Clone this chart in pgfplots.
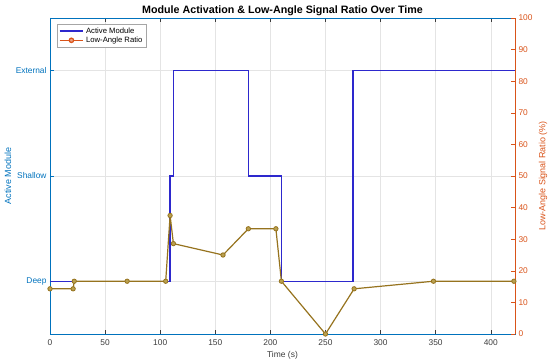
\documentclass[border=0pt]{standalone}
\usepackage{pgfplots}
\pgfplotsset{compat=1.18}
\usepackage{fontspec}
\setmainfont{Liberation Sans}
\definecolor{modblue}{RGB}{45,40,205}
\definecolor{ratiocol}{RGB}{150,115,30}
\definecolor{ratiofill}{RGB}{185,160,80}
\definecolor{lblue}{rgb}{0,0.447,0.741}
\definecolor{rorange}{rgb}{0.85,0.325,0.098}
\definecolor{gridc}{RGB}{228,228,228}
\definecolor{axgray}{RGB}{60,60,60}
\begin{document}
\begin{tikzpicture}
\path[use as bounding box] (-50bp,-30bp) rectangle (500bp,334bp);
\begin{axis}[
  at={(0,0)}, anchor=south west,
  scale only axis, width=465bp, height=316bp,
  xmin=0, xmax=422, ymin=0.5, ymax=3.5,
  clip=false,
  /pgf/number format/assume math mode=true,
  xtick={0,50,...,400},
  ytick={1,2,3}, yticklabels={Deep,Shallow,External},
  tick align=inside, xtick pos=both, ytick pos=left,
  major tick length=4bp,
  grid=major, major grid style={gridc, line width=0.5bp},
  x axis line style={axgray, line width=0.5bp},
  y axis line style={lblue, line width=0.5bp},
  xtick style={axgray, line width=0.5bp},
  ytick style={lblue, line width=0.5bp},
  ticklabel style={font=\fontsize{8.4}{9}\selectfont},
  xticklabel style={text=axgray, yshift=-2.5bp},
  yticklabel style={text=lblue},
  title={Module Activation \& Low-Angle Signal Ratio Over Time},
  every axis title/.style={font=\bfseries\fontsize{10.75}{12}\selectfont, at={(axis description cs:0.5,1)}, anchor=base, yshift=4.5bp, inner sep=0pt},
  xlabel={Time (s)},
  xlabel style={font=\fontsize{8.5}{10}\selectfont, text=axgray, at={(axis description cs:0.5,-0.068)}, anchor=center},
  ylabel={Active Module},
  ylabel style={font=\fontsize{9}{10}\selectfont, text=lblue, at={(axis description cs:-0.0903,0.5)}, anchor=center, rotate=0},
  legend style={at={(axis description cs:0.015,0.981)}, anchor=north west, font=\fontsize{7.7}{9}\selectfont, draw=gray!70, line width=0.5bp, inner sep=1.5bp, row sep=-2bp, cells={anchor=west}},
  legend image code/.code={\draw[mark repeat=2,mark phase=2,#1] plot coordinates {(0cm,0cm) (0.42cm,0cm) (0.84cm,0cm)};},
]
\addplot[const plot, modblue, line width=1.6bp, forget plot] coordinates {
  (0,1) (109,2) (112,3) (180,2) (210,1) (275,3) (422,3)
};
\addlegendimage{modblue, line width=1.6bp}
\addlegendentry{Active Module}
\addlegendimage{rorange, line width=1.2bp, mark=*, mark size=2.2bp, mark options={fill=rorange!55, draw=rorange}}
\addlegendentry{Low-Angle Ratio}
\end{axis}
\begin{axis}[
  at={(0,0)}, anchor=south west,
  scale only axis, width=465bp, height=316bp,
  xmin=0, xmax=422, ymin=0, ymax=100,
  clip=false,
  /pgf/number format/assume math mode=true,
  axis x line=none, axis y line*=right,
  ytick={0,10,...,100},
  tick align=inside, major tick length=4bp,
  y axis line style={rorange, line width=0.5bp, -},
  ytick style={rorange, line width=0.5bp},
  ticklabel style={font=\fontsize{8.4}{9}\selectfont},
  yticklabel style={text=rorange},
  ylabel={Low-Angle Signal Ratio (\%)},
  ylabel style={font=\fontsize{9}{10}\selectfont, text=rorange, at={(axis description cs:1.0602,0.5)}, anchor=center, rotate=0},
]
\addplot[ratiocol, line width=1.2bp, mark=*, mark size=2.2bp, mark options={fill=ratiofill, draw=ratiocol, line width=0.8bp}] coordinates {
  (0,14.3) (21,14.3) (22,16.7) (70,16.7) (105,16.7) (109,37.5) (112,28.6)
  (157,25.0) (180,33.3) (205,33.3) (210,16.7) (250,0) (276,14.3) (348,16.7) (421,16.7)
};
\end{axis}
\end{tikzpicture}
\end{document}
